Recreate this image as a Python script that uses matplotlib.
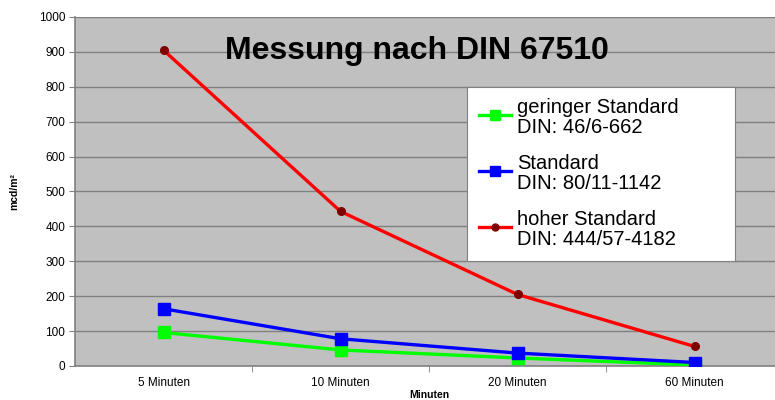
import matplotlib.pyplot as plt
from matplotlib.lines import Line2D
from matplotlib.legend_handler import HandlerLine2D

plt.rcParams["font.family"] = ["Liberation Sans", "DejaVu Sans"]

categories = ["5 Minuten", "10 Minuten", "20 Minuten", "60 Minuten"]
gering = [96, 46, 23, 3]
standard = [164, 78, 37, 10]
hoch = [905, 443, 205, 56]

labels = [
    "geringer Standard\nDIN: 46/6-662",
    "Standard\nDIN: 80/11-1142",
    "hoher Standard\nDIN: 444/57-4182",
]


class FirstLineHandler(HandlerLine2D):
    # put the legend key next to the first text line, like Excel does
    def create_artists(self, legend, orig_handle, xdescent, ydescent,
                       width, height, fontsize, trans):
        artists = super().create_artists(legend, orig_handle, xdescent, ydescent,
                                         width, height, fontsize, trans)
        for a in artists:
            a.set_ydata([y + height * 0.25 for y in a.get_ydata()])
        return artists


fig = plt.figure(figsize=(7.75, 4.0), dpi=100)
ax = fig.add_axes([75 / 775, 1 - 366 / 400, 708 / 775, 349 / 400])
ax.set_facecolor("#c0c0c0")

x = list(range(len(categories)))
ax.plot(x, gering, color="#00ff00", linewidth=2.4, marker="s", markersize=8,
        markerfacecolor="#00ff00", markeredgecolor="#00ff00", zorder=3)
ax.plot(x, standard, color="#0000ff", linewidth=2.4, marker="s", markersize=8,
        markerfacecolor="#0000ff", markeredgecolor="#0000ff", zorder=4)
ax.plot(x, hoch, color="#ff0000", linewidth=2.4, marker="o", markersize=5.5,
        markerfacecolor="#800000", markeredgecolor="#800000", zorder=5)

ax.set_xlim(-0.5, 3.5)
ax.set_ylim(0, 1000)
ax.set_yticks(range(0, 1001, 100))
ax.tick_params(axis="y", labelsize=8.5, length=4, color="#808080", pad=3)
ax.set_xticks(x)
ax.set_xticklabels(categories)
ax.set_xticks([0.5, 1.5, 2.5], minor=True)
ax.tick_params(axis="x", which="major", length=0, labelsize=8.5, pad=8)
ax.tick_params(axis="x", which="minor", length=4, color="#808080")
ax.grid(axis="y", color="#808080", linewidth=1.0)
ax.set_axisbelow(True)
for side in ["top", "right"]:
    ax.spines[side].set_visible(False)
for side in ["left", "bottom"]:
    ax.spines[side].set_color("#808080")
    ax.spines[side].set_linewidth(1.2)

ax.set_ylabel("mcd/m²", fontsize=7.5, fontweight="bold", labelpad=14)
ax.set_xlabel("Minuten", fontsize=7.5, fontweight="bold", labelpad=0.5)

fig.text(417 / 775, 1 - 51 / 400, "Messung nach DIN 67510", fontsize=23,
         fontweight="bold", ha="center", va="center")

handles = [
    Line2D([], [], color="#00ff00", linewidth=2.4, marker="s", markersize=7,
           markerfacecolor="#00ff00", markeredgecolor="#00ff00"),
    Line2D([], [], color="#0000ff", linewidth=2.4, marker="s", markersize=7,
           markerfacecolor="#0000ff", markeredgecolor="#0000ff"),
    Line2D([], [], color="#ff0000", linewidth=2.4, marker="o", markersize=5,
           markerfacecolor="#800000", markeredgecolor="#800000"),
]
leg = ax.legend(handles, labels, loc="upper left",
                bbox_to_anchor=(0.554, 0.309, 0.378, 0.491), mode="expand",
                fontsize=14.5, frameon=True, fancybox=False, framealpha=1,
                edgecolor="#808080", handlelength=1.6, handletextpad=0.3,
                labelspacing=0.85, borderpad=0.58, borderaxespad=0,
                handler_map={Line2D: FirstLineHandler()})
leg.get_frame().set_linewidth(0.8)
for t in leg.get_texts():
    t.set_linespacing(1.05)

fig.savefig("out.png", dpi=100)
